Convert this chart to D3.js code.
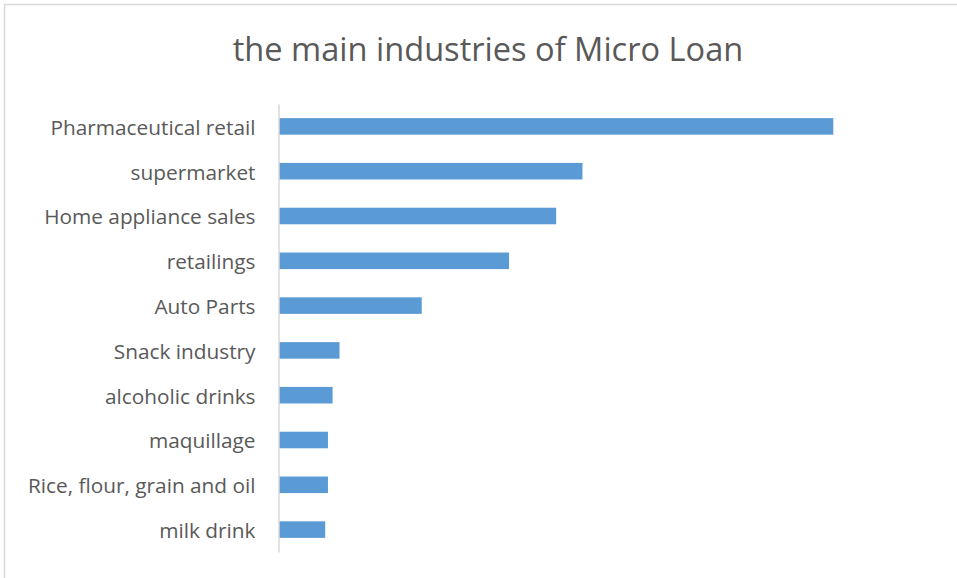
<!DOCTYPE html>
<html>
<head>
<meta charset="utf-8">
<script src="https://cdn.jsdelivr.net/npm/d3@7"></script>
<style>
  html, body { margin: 0; padding: 0; background: #fff; }
  svg { display: block; }
</style>
</head>
<body>
<svg id="chart" width="957" height="578"></svg>
<script>
// Industries, top to bottom, and their loan counts
const categories = [
  "Pharmaceutical retail",
  "supermarket",
  "Home appliance sales",
  "retailings",
  "Auto Parts",
  "Snack industry",
  "alcoholic drinks",
  "maquillage",
  "Rice, flour, grain and oil",
  "milk drink"
];
const values = [120, 65.7, 60, 49.8, 30.9, 13.1, 11.6, 10.6, 10.6, 10.0];
const title = "the main industries of Micro Loan";

const W = 957, H = 578;
const plot = { left: 279, right: 833.3, top: 104, bottom: 552 };
const font = "'Open Sans', Lato, sans-serif";

const svg = d3.select("#chart");

// Outer frame (only top and left edges fall inside the view)
svg.append("rect")
  .attr("x", 4.5).attr("y", 4.5)
  .attr("width", W + 10).attr("height", H + 10)
  .attr("fill", "#fff")
  .attr("stroke", "#d9d9d9")
  .attr("stroke-width", 1.5);

const x = d3.scaleLinear()
  .domain([0, d3.max(values)])
  .range([plot.left, plot.right]);

const y = d3.scaleBand()
  .domain(categories)
  .range([plot.top, plot.bottom])
  .paddingInner(0.63)
  .paddingOuter(0.315);

const data = categories.map((c, i) => ({ c, v: values[i] }));

svg.append("g")
  .selectAll("rect")
  .data(data)
  .join("rect")
  .attr("x", x(0))
  .attr("y", d => y(d.c))
  .attr("width", d => x(d.v) - x(0))
  .attr("height", y.bandwidth())
  .attr("fill", "#5b9bd5");

// Category axis
const yAxis = svg.append("g")
  .attr("transform", `translate(${plot.left - 0.5},0)`)
  .call(d3.axisLeft(y).tickSize(0).tickSizeOuter(0).tickPadding(23));

yAxis.select(".domain")
  .attr("stroke", "#d9d9d9")
  .attr("stroke-width", 1.5);

yAxis.selectAll("text")
  .attr("fill", "#595959")
  .attr("dy", "0.4em")
  .style("font-family", font)
  .style("font-size", "20.8px");

svg.append("text")
  .attr("x", 488)
  .attr("y", 61)
  .attr("text-anchor", "middle")
  .attr("fill", "#595959")
  .style("font-family", font)
  .style("font-size", "32.6px")
  .text(title);
</script>
</body>
</html>
